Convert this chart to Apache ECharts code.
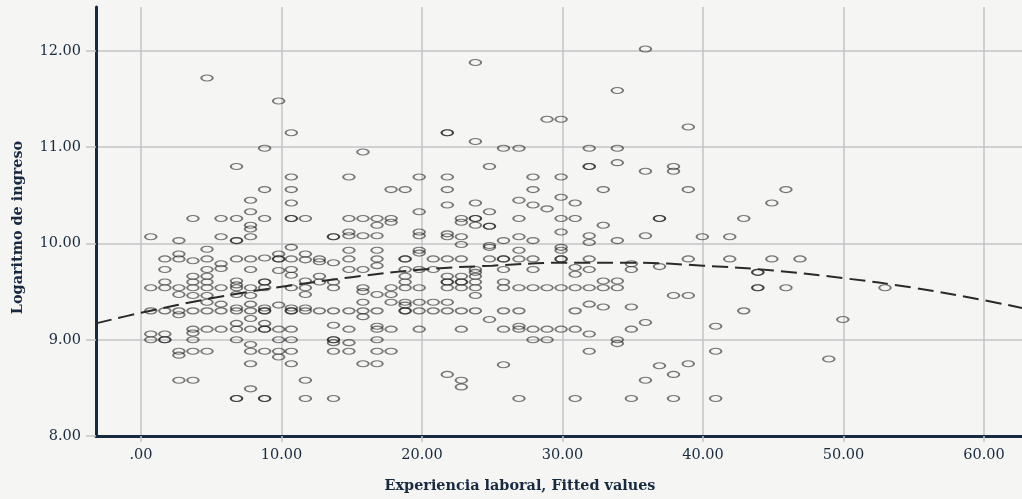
<!DOCTYPE html>
<html>
<head>
<meta charset="utf-8">
<script src="https://cdn.jsdelivr.net/npm/echarts@6/dist/echarts.min.js"></script>
<style>
  html, body { margin: 0; padding: 0; background: #f5f5f3; }
  #chart { width: 1022px; height: 499px; }
</style>
</head>
<body>
<div id="chart"></div>
<script>
// Years of work experience (one column of observations per value)
const expYears = [
  0.7, 1.7, 2.7, 3.7, 4.7, 5.7, 6.8, 7.8, 8.8, 9.8,
  10.7, 11.7, 12.7, 13.7, 14.8, 15.8, 16.8, 17.8, 18.8, 19.8,
  20.8, 21.8, 22.8, 23.8, 24.8, 25.8, 26.9, 27.9, 28.9, 29.9,
  30.9, 31.9, 32.9, 33.9, 34.9, 35.9, 36.9, 37.9, 38.95, 39.95,
  40.9, 41.9, 42.9, 43.9, 44.9, 45.9, 46.9, 48.95, 49.95, 52.95
];

// Log income of every observation, grouped by the experience value above
const logIncome = [
  [10.07, 9.54, 9.30, 9.06, 9.00],
  [9.84, 9.73, 9.60, 9.54, 9.30, 9.06, 9.00, 9.00],
  [10.03, 9.89, 9.84, 9.54, 9.47, 9.30, 9.26, 8.88, 8.84, 8.58],
  [10.26, 9.82, 9.66, 9.60, 9.54, 9.46, 9.30, 9.11, 9.07, 9.00, 8.88, 8.58],
  [11.72, 9.94, 9.84, 9.73, 9.66, 9.60, 9.54, 9.46, 9.39, 9.30, 9.11, 8.88],
  [10.26, 10.07, 9.79, 9.74, 9.54, 9.37, 9.30, 9.11],
  [10.80, 10.26, 10.03, 10.03, 9.84, 9.61, 9.57, 9.54, 9.47, 9.33, 9.30, 9.17, 9.11, 9.00, 8.39, 8.39],
  [10.45, 10.33, 10.19, 10.15, 10.07, 9.84, 9.73, 9.54, 9.46, 9.37, 9.30, 9.22, 9.11, 8.95, 8.88, 8.75, 8.49],
  [10.99, 10.56, 10.26, 9.85, 9.60, 9.60, 9.54, 9.33, 9.30, 9.30, 9.17, 9.11, 9.11, 8.88, 8.39, 8.39],
  [11.48, 9.89, 9.84, 9.84, 9.72, 9.36, 9.11, 9.00, 8.88, 8.82],
  [11.15, 10.69, 10.56, 10.42, 10.26, 10.26, 9.96, 9.84, 9.73, 9.67, 9.54, 9.33, 9.30, 9.30, 9.11, 9.00, 8.88, 8.75],
  [10.26, 9.89, 9.83, 9.61, 9.54, 9.47, 9.33, 9.30, 8.58, 8.39],
  [9.84, 9.81, 9.66, 9.60, 9.30],
  [10.07, 10.07, 9.80, 9.60, 9.54, 9.30, 9.15, 9.00, 9.00, 8.97, 8.88, 8.39],
  [10.69, 10.26, 10.12, 10.08, 9.93, 9.84, 9.73, 9.30, 9.11, 8.97, 8.88],
  [10.95, 10.26, 10.08, 9.73, 9.54, 9.50, 9.39, 9.30, 9.24, 8.75],
  [10.26, 10.19, 10.08, 9.93, 9.84, 9.77, 9.47, 9.30, 9.14, 9.11, 9.00, 8.88, 8.75],
  [10.56, 10.26, 10.22, 9.54, 9.47, 9.39, 9.11, 8.88],
  [10.56, 9.84, 9.84, 9.73, 9.66, 9.60, 9.54, 9.39, 9.36, 9.30, 9.30],
  [10.69, 10.33, 10.12, 10.08, 9.93, 9.90, 9.73, 9.54, 9.39, 9.30, 9.11],
  [9.84, 9.73, 9.39, 9.30],
  [11.15, 11.15, 10.69, 10.56, 10.40, 10.10, 10.07, 9.84, 9.66, 9.60, 9.60, 9.54, 9.39, 9.30, 8.64],
  [10.26, 10.22, 10.07, 9.99, 9.84, 9.66, 9.60, 9.60, 9.54, 9.30, 9.11, 8.58, 8.51],
  [11.88, 11.06, 10.42, 10.26, 10.26, 10.19, 9.73, 9.70, 9.66, 9.60, 9.54, 9.46, 9.30],
  [10.80, 10.33, 10.18, 10.18, 9.98, 9.96, 9.84, 9.21],
  [10.99, 10.03, 9.84, 9.84, 9.73, 9.60, 9.54, 9.30, 9.11, 8.74],
  [10.99, 10.45, 10.26, 10.07, 9.93, 9.84, 9.54, 9.30, 9.14, 9.11, 8.39],
  [10.69, 10.56, 10.40, 10.03, 9.84, 9.73, 9.54, 9.11, 9.00],
  [11.29, 10.36, 9.54, 9.11, 9.00],
  [11.29, 10.69, 10.48, 10.26, 10.12, 9.96, 9.93, 9.84, 9.84, 9.54, 9.11],
  [10.42, 10.26, 9.75, 9.68, 9.54, 9.30, 9.11, 8.39],
  [10.99, 10.80, 10.80, 10.08, 10.01, 9.84, 9.73, 9.54, 9.37, 9.06, 8.88],
  [10.56, 10.19, 9.61, 9.54, 9.34],
  [11.59, 10.99, 10.84, 10.03, 9.61, 9.54, 9.00, 8.96],
  [9.79, 9.73, 9.34, 9.11, 8.39],
  [12.02, 10.75, 10.08, 9.18, 8.58],
  [10.26, 10.26, 9.76, 8.73],
  [10.80, 10.75, 9.46, 8.64, 8.39],
  [11.21, 10.56, 9.84, 9.46, 8.75],
  [10.07],
  [9.14, 8.88, 8.39],
  [10.07, 9.84],
  [10.26, 9.30],
  [9.70, 9.70, 9.54, 9.54],
  [10.42, 9.84],
  [10.56, 9.54],
  [9.84],
  [8.80],
  [9.21],
  [9.54]
];

// Quadratic fitted values along the experience range
const fitX = [-3.2, 0, 5, 10, 15, 20, 25, 30, 35, 40, 45, 50, 55, 60, 62.7];
const fitY = [9.17, 9.28, 9.43, 9.55, 9.65, 9.73, 9.77, 9.80, 9.80, 9.77, 9.72, 9.64, 9.54, 9.41, 9.33];

// Axis tick values
const xTicks = [0, 10, 20, 30, 40, 50, 60];
const yTicks = [8, 9, 10, 11, 12];

const points = expYears.flatMap((x, i) => logIncome[i].map(y => [x, y]));
const fitLine = fitX.map((x, i) => [x, fitY[i]]);

const navy = '#172a40';
const gridGrey = '#c3c3c7';
const serif = '"DejaVu Serif", serif';
const fmt = v => (v === 0 ? '.00' : v.toFixed(2));

const chart = echarts.init(document.getElementById('chart'), null, { renderer: 'canvas' });
chart.setOption({
  backgroundColor: '#f5f5f3',
  animation: false,
  grid: { left: 96, right: 0, top: 7, bottom: 63, containLabel: false },
  xAxis: {
    type: 'value',
    min: -3.2,
    max: 62.7,
    name: 'Experiencia laboral, Fitted values',
    nameLocation: 'middle',
    nameGap: 43,
    nameTextStyle: {
      fontFamily: serif, fontWeight: 'bold', fontSize: 14.4, color: navy,
      padding: [0, 78, 0, 0]
    },
    axisLine: { show: true, onZero: false, lineStyle: { color: navy, width: 3 } },
    axisTick: { show: true, customValues: xTicks, length: 6, lineStyle: { color: gridGrey, width: 1.5 } },
    axisLabel: {
      customValues: xTicks, formatter: fmt, margin: 12,
      fontFamily: serif, fontSize: 14.5, color: navy
    },
    splitLine: { show: true, lineStyle: { color: gridGrey, width: 1.5 } }
  },
  yAxis: {
    type: 'value',
    min: 8,
    max: 12.457,
    name: 'Logaritmo de ingreso',
    nameLocation: 'middle',
    nameGap: 71,
    nameTextStyle: {
      fontFamily: serif, fontWeight: 'bold', fontSize: 14.4, color: navy,
      padding: [0, 12, 0, 0]
    },
    axisLine: { show: true, onZero: false, lineStyle: { color: navy, width: 3 } },
    axisTick: { show: true, customValues: yTicks, length: 10, lineStyle: { color: gridGrey, width: 1.5 } },
    axisLabel: {
      customValues: yTicks, formatter: fmt, margin: 15,
      fontFamily: serif, fontSize: 14.5, color: navy
    },
    splitLine: { show: true, lineStyle: { color: gridGrey, width: 1.5 } }
  },
  series: [
    {
      type: 'scatter',
      data: points,
      symbol: 'circle',
      symbolSize: [11.5, 6],
      itemStyle: { color: 'rgba(0,0,0,0)', borderColor: 'rgba(25,25,25,0.72)', borderWidth: 1.5 },
      z: 2
    },
    {
      type: 'line',
      data: fitLine,
      smooth: 0.4,
      showSymbol: false,
      lineStyle: { color: '#2a2a2a', width: 2, type: [16, 7] },
      z: 3
    }
  ]
});
</script>
</body>
</html>
